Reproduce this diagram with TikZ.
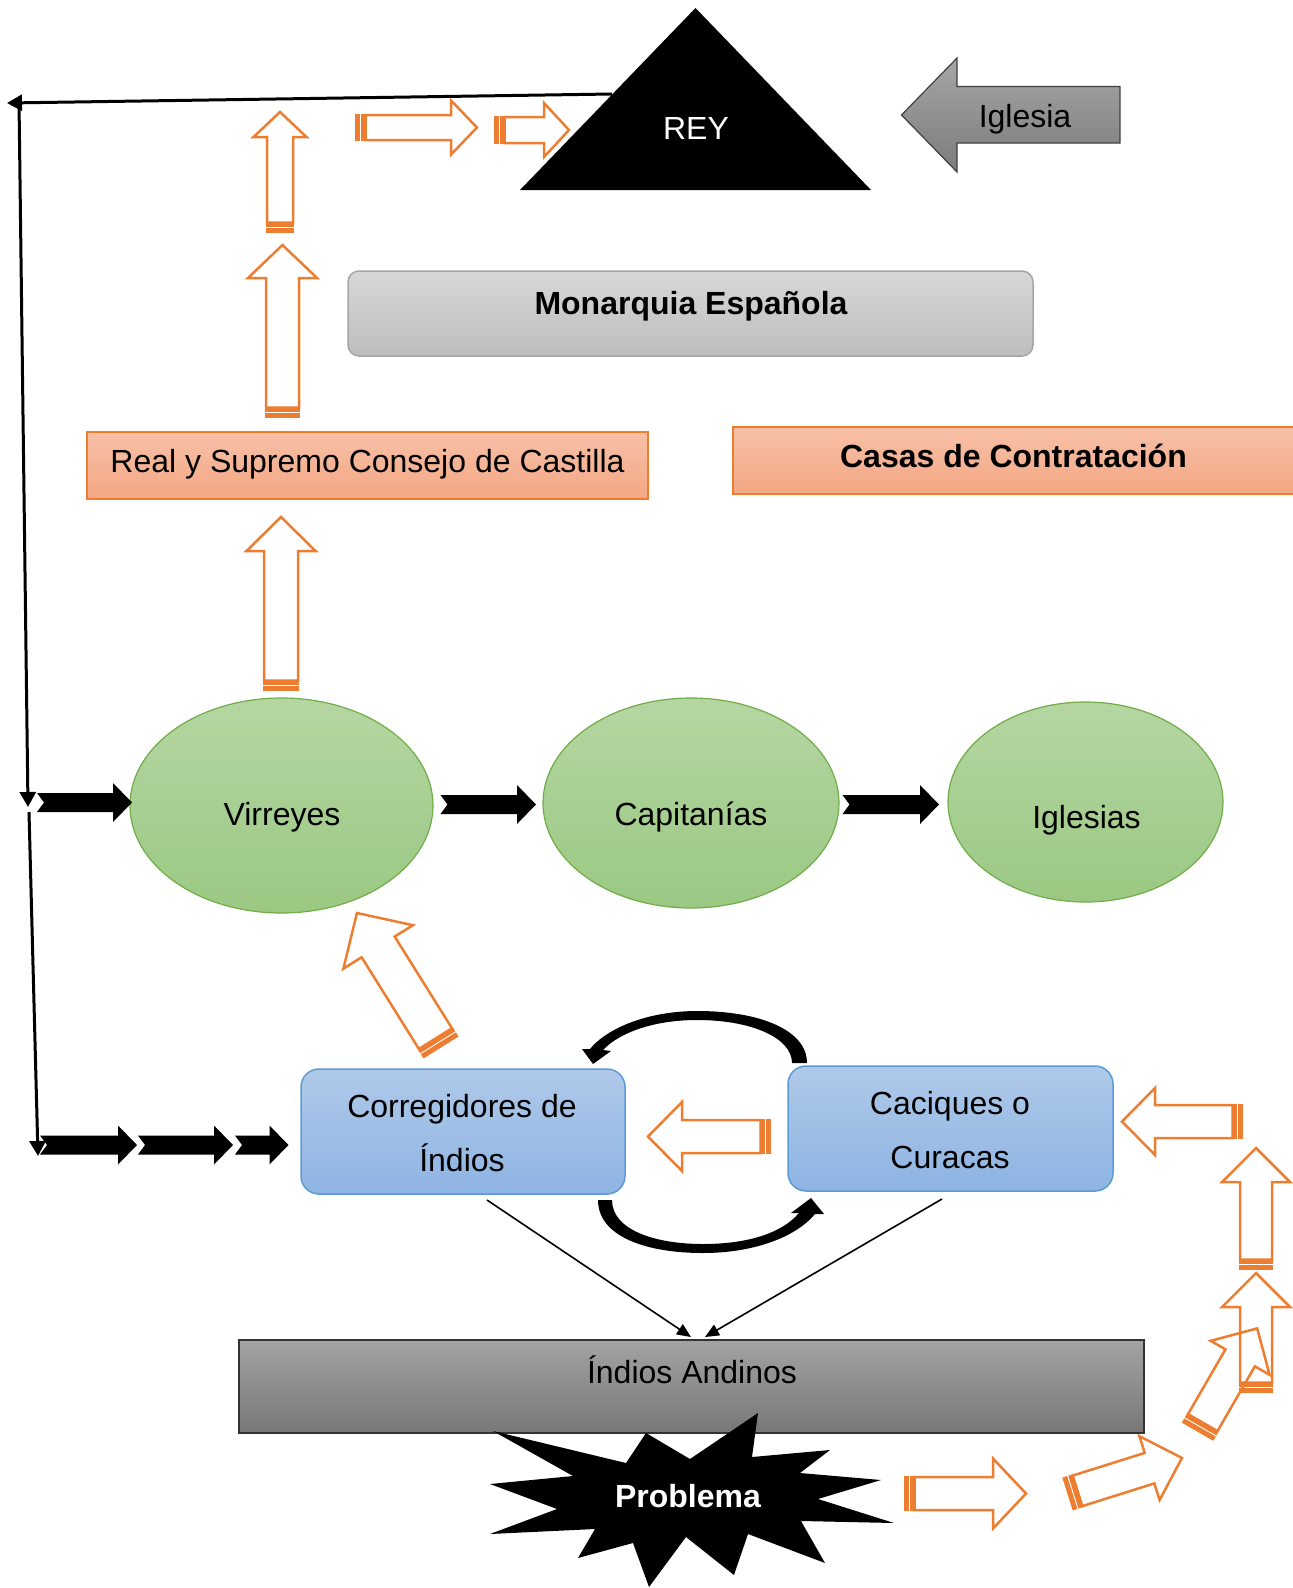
\documentclass[tikz,border=0pt]{standalone}
\usepackage{fontspec}
\setmainfont{Liberation Sans}
\usetikzlibrary{arrows.meta,shapes.geometric}

\definecolor{accentorange}{HTML}{ED7D31}
\definecolor{salmontop}{HTML}{F7C0A7}
\definecolor{salmonbot}{HTML}{F4A784}
\definecolor{greytop}{HTML}{D7D7D7}
\definecolor{greybot}{HTML}{BEBEBE}
\definecolor{greyline}{HTML}{A5A5A5}
\definecolor{greentop}{HTML}{B5D6A2}
\definecolor{greenbot}{HTML}{9BC883}
\definecolor{greenline}{HTML}{70AD47}
\definecolor{bluetop}{HTML}{AFC9E9}
\definecolor{bluebot}{HTML}{8EB4E3}
\definecolor{blueline}{HTML}{5B9BD5}
\definecolor{darktop}{HTML}{A3A3A3}
\definecolor{darkbot}{HTML}{777777}
\definecolor{arrowtop}{HTML}{A6A6A6}
\definecolor{arrowbot}{HTML}{7C7C7C}

\newcommand\bigfont{\fontsize{32}{38}\selectfont}

% hollow orange arrow with two stripes at the tail:
% tail centre (#1,#2), direction #3, length #4,
% shaft half width #5, head half width #6, head length #7
\newcommand\stripedarrow[7]{%
  \begin{scope}[shift={(#1,#2)},rotate=#3]
    \fill[accentorange] (0,{-#5-1.2}) rectangle (5,{#5+1.2});
    \fill[accentorange] (6.2,{-#5-1.2}) rectangle (10.5,{#5+1.2});
    \draw[hollowarrow] (10.5,-#5) -- ({#4-#7},-#5) -- ({#4-#7},-#6) -- (#4,0)
      -- ({#4-#7},#6) -- ({#4-#7},#5) -- (10.5,#5) -- cycle;
  \end{scope}}

% solid black arrow with a notched tail, from x=#1 to x=#2 at height #3
\newcommand\notchedarrow[3]{%
  \fill[black] (#1,{#3-9.5}) -- ({#2-19},{#3-9.5}) -- ({#2-19},{#3-19.5}) -- (#2,#3)
    -- ({#2-19},{#3+19.5}) -- ({#2-19},{#3+9.5}) -- (#1,{#3+9.5}) -- ({#1+7},#3) -- cycle;}

\tikzset{
  hollowarrow/.style={draw=accentorange, line width=2.5pt, line join=miter},
  txt/.style={anchor=base, inner sep=0pt, font=\bigfont},
  boldtxt/.style={txt, font=\bigfont\bfseries},
  connector/.style={line width=3pt, -{Triangle[length=15pt,width=16pt]}},
  thinconnector/.style={line width=1.6pt, -{Triangle[length=14pt,width=12pt]}},
  panel/.style={rectangle, inner sep=0pt, line width=1.5pt},
  oval/.style={ellipse, inner sep=0pt, line width=1.2pt, draw=greenline,
    top color=greentop, bottom color=greenbot},
  bluebox/.style={panel, rounded corners=18pt, draw=blueline,
    top color=bluetop, bottom color=bluebot, minimum width=324pt, minimum height=125pt},
}

\begin{document}
\begin{tikzpicture}[x=1pt,y=-1pt]
\useasboundingbox (0,0) rectangle (1293,1588);

% ---- feedback line running down the left side ----
\coordinate (reyleft) at (612,94);
\coordinate (leftend) at (7,103);
\coordinate (vtop) at (19,101);
\coordinate (vmid) at (28,807);
\coordinate (vmidb) at (29,812);
\coordinate (vbot) at (38,1156);
\draw[connector] (reyleft) -- (leftend);
\draw[connector] (vtop) -- (vmid);
\draw[connector] (vmidb) -- (vbot);

% ---- orange arrows climbing towards the king ----
\stripedarrow{280}{233}{90}{121}{13}{26.5}{25}
\stripedarrow{355}{127.5}{0}{122}{12.5}{27}{26}
\stripedarrow{494}{130}{0}{75}{13}{27}{25}
\stripedarrow{282.5}{418}{90}{173}{16.5}{34.5}{33}
\stripedarrow{281}{691}{90}{174}{17}{34.5}{34}

% ---- the king ----
\fill[black] (520,190) -- (695.5,8) -- (871,190) -- cycle;
\node[txt, text=white] (rey) at (696,139.5) {REY};

% ---- the church pushing in ----
\shade[top color=arrowtop, bottom color=arrowbot, draw=black!75, line width=1.2pt]
  (901.5,115) -- (957,58) -- (957,86.5) -- (1120,86.5) -- (1120,143) -- (957,143)
  -- (957,172) -- cycle;
\node[txt] (iglesia) at (1025,127) {Iglesia};

% ---- institutions in Spain ----
\node[panel, rounded corners=11pt, draw=greyline, top color=greytop, bottom color=greybot,
  minimum width=685pt, minimum height=85pt] (monarquia) at (690.5,313.5) {};
\node[boldtxt] (monarquiatxt) at (691,314) {Monarquia Española};

\node[panel, draw=accentorange, top color=salmontop, bottom color=salmonbot,
  minimum width=561pt, minimum height=67pt] (consejo) at (367.5,465.5) {};
\node[txt] (consejotxt) at (367.5,472) {Real y Supremo Consejo de Castilla};

\node[panel, draw=accentorange, top color=salmontop, bottom color=salmonbot,
  minimum width=561pt, minimum height=67pt] (casas) at (1013.5,460.5) {};
\node[boldtxt] (casastxt) at (1013.5,467) {Casas de Contratación};

% ---- colonial administration ----
\node[oval, minimum width=303pt, minimum height=215pt] (virreyes) at (281.5,805.5) {};
\node[txt] (virreyestxt) at (282,825) {Virreyes};
\node[oval, minimum width=296pt, minimum height=210pt] (capitanias) at (691,803) {};
\node[txt] (capitaniastxt) at (691,825) {Capitanías};
\node[oval, minimum width=275pt, minimum height=200pt] (iglesias) at (1085.5,802) {};
\node[txt] (iglesiastxt) at (1086.5,828) {Iglesias};

\notchedarrow{37}{132}{802.5}
\notchedarrow{440.5}{536}{804.5}
\notchedarrow{842.5}{939}{804.5}

\notchedarrow{40}{137}{1145}
\notchedarrow{138}{233}{1145}
\notchedarrow{235}{288.5}{1145}

\stripedarrow{441}{1047.5}{122}{158.6}{19.5}{41}{40}

% ---- local authorities ----
\node[bluebox] (corregidores) at (463,1131.5) {};
\node[txt] (corregidorestxta) at (462,1117) {Corregidores de};
\node[txt] (corregidorestxtb) at (462,1171) {Índios};
\node[bluebox, minimum width=325pt] (caciques) at (950.5,1128.5) {};
\node[txt] (caciquestxta) at (950,1114.5) {Caciques o};
\node[txt] (caciquestxtb) at (950,1168.5) {Curacas};

\stripedarrow{771}{1136.5}{180}{123}{16.5}{34.5}{34}

% curved arrows between the two local authorities
\fill[black] (807,1063) .. controls (807,1030) and (760,1011) .. (697,1011)
  .. controls (650,1011) and (608,1027) .. (590,1049) -- (582,1049) -- (593,1064)
  -- (611,1051) -- (603,1050) .. controls (620,1032) and (655,1020) .. (697,1020)
  .. controls (752,1020) and (792,1038) .. (792,1063) -- cycle;
\fill[black] (598,1200) .. controls (598,1236) and (645,1253) .. (703,1253)
  .. controls (752,1253) and (795,1238) .. (815,1214) -- (824,1214) -- (811,1198)
  -- (791,1213) -- (799,1213) .. controls (782,1233) and (748,1244) .. (703,1244)
  .. controls (655,1244) and (612,1230) .. (612,1200) -- cycle;

% ---- the Andean people ----
\node[panel, draw=black!80, top color=darktop, bottom color=darkbot,
  minimum width=905pt, minimum height=93pt] (indios) at (691.5,1386.5) {};
\node[txt] (indiostxt) at (692,1383) {Índios Andinos};

\coordinate (corrout) at (487,1200);
\coordinate (cacout) at (942,1199);
\coordinate (indiosinl) at (691,1337);
\coordinate (indiosinr) at (705,1337);
\draw[thinconnector] (corrout) -- (indiosinl);
\draw[thinconnector] (cacout) -- (indiosinr);

% ---- the problem and the path it takes back up ----
\fill[black] (493,1431) -- (626,1463) -- (646,1433) -- (690,1459) -- (758,1413)
  -- (752,1457) -- (830,1450) -- (800,1473) -- (881,1480) -- (818,1499)
  -- (894,1523) -- (801,1521) -- (825,1563) -- (748,1534) -- (734,1575)
  -- (686,1537) -- (649,1587) -- (633,1543) -- (578,1558) -- (595,1529)
  -- (490,1534) -- (557,1509) -- (490,1484) -- (573,1476) -- cycle;
\node[boldtxt, text=white] (problema) at (688,1507) {Problema};

\stripedarrow{904}{1493.5}{0}{122}{16.5}{35}{33}
\stripedarrow{1067.5}{1494}{17.5}{120}{16}{33.5}{34}
\stripedarrow{1197.5}{1431.7}{60}{119.3}{17}{34}{34}
\stripedarrow{1256}{1393}{90}{120}{16}{34}{34}
\stripedarrow{1256}{1270}{90}{122}{16}{34}{34}
\stripedarrow{1243}{1121.5}{180}{121}{16.5}{33.5}{33}

\end{tikzpicture}
\end{document}
